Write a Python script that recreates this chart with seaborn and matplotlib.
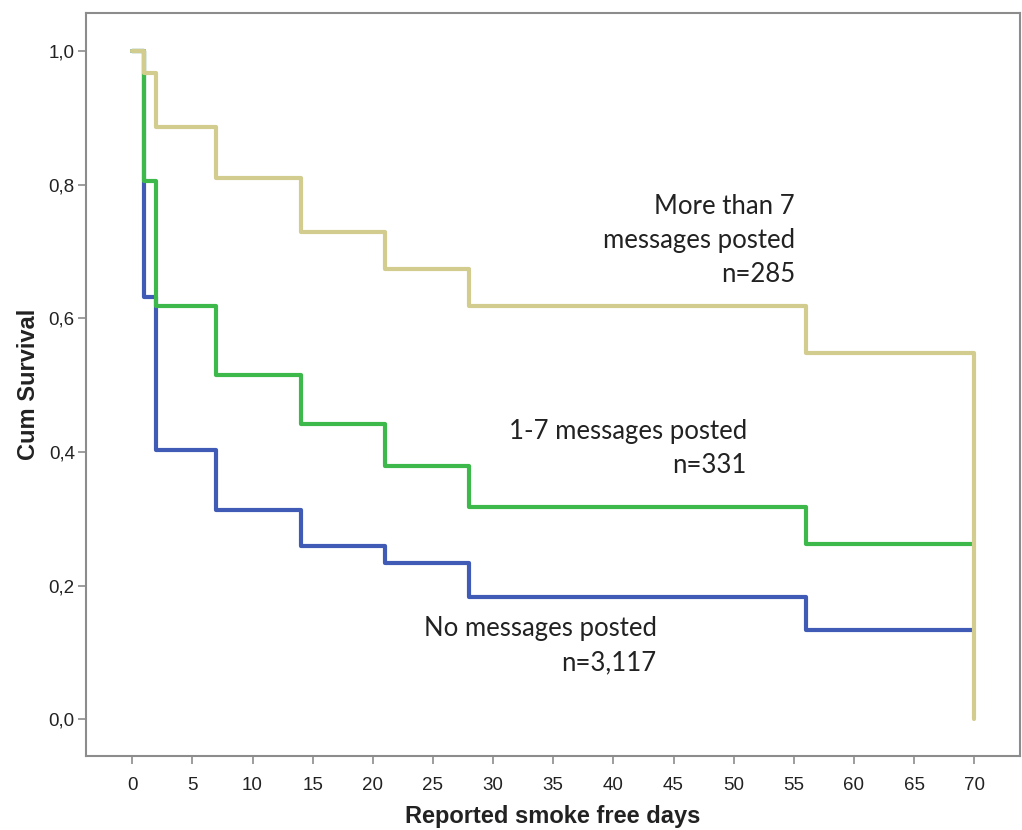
"""
Kaplan-Meier 曲线：按发帖数量分组的戒烟天数累计生存率
"""
import pandas as pd
import numpy as np
import matplotlib
matplotlib.use('Agg')
import matplotlib.pyplot as plt
import seaborn as sns
from matplotlib.ticker import FuncFormatter

# ==================== 数据 ====================
days = [0, 1, 2, 7, 14, 21, 28, 56, 70]
surv_none = [1.0, 0.632, 0.403, 0.313, 0.260, 0.234, 0.183, 0.133, 0.133]
surv_1_7 = [1.0, 0.805, 0.618, 0.516, 0.442, 0.379, 0.318, 0.262, 0.262]
surv_gt7 = [1.0, 0.967, 0.886, 0.810, 0.729, 0.674, 0.618, 0.548, 0.0]

groups = ['No messages posted', '1-7 messages posted', 'More than 7 messages posted']
group_n = ['n=3,117', 'n=331', 'n=285']
colors = ['#3f5bb5', '#3db84a', '#d2cc8e']

df = pd.concat([
    pd.DataFrame({'days': days, 'surv': s, 'group': g})
    for s, g in zip([surv_none, surv_1_7, surv_gt7], groups)
], ignore_index=True)

# ==================== 绘图 ====================
sns.set_style('white')
narrow = ['Liberation Sans Narrow', 'Liberation Sans', 'DejaVu Sans']

fig = plt.figure(figsize=(10.22, 8.3), dpi=100)
ax = fig.add_axes([0.0841, 0.0892, 0.9139, 0.8950])

sns.lineplot(data=df, x='days', y='surv', hue='group', hue_order=groups,
             palette=colors, estimator=None, drawstyle='steps-post',
             linewidth=3, legend=False, ax=ax)

ax.set_xlim(-3.85, 73.8)
ax.set_ylim(-0.055, 1.057)
ax.set_xticks(range(0, 71, 5))
ax.set_yticks(np.arange(0, 1.01, 0.2))
ax.yaxis.set_major_formatter(FuncFormatter(lambda v, p: f'{v:.1f}'.replace('.', ',')))

for sp in ax.spines.values():
    sp.set_visible(True)
    sp.set_color('#8c8c8c')
    sp.set_linewidth(1.5)
ax.tick_params(axis='both', direction='out', length=6, width=1.2, color='#8c8c8c',
               labelsize=13.5, labelcolor='#222222', bottom=True, left=True)
ax.tick_params(axis='x', pad=9)
ax.tick_params(axis='y', pad=2)
for lab in ax.get_xticklabels() + ax.get_yticklabels():
    lab.set_family(narrow)

ax.set_xlabel('Reported smoke free days', fontsize=17, fontweight='bold',
              family=narrow, color='#222222', labelpad=8)
ax.set_ylabel('Cum Survival', fontsize=17, fontweight='bold',
              family=narrow, color='#222222', labelpad=6)

# 曲线标注
note_font = ['Lato', 'Open Sans', 'DejaVu Sans']
note_kw = dict(ha='right', va='center', multialignment='right', fontsize=18.5,
               family=note_font, color='#222222', linespacing=1.45)
ax.text(55.1, 0.716, 'More than 7\nmessages posted\n' + group_n[2], **note_kw)
ax.text(51.1, 0.405, '1-7 messages posted\n' + group_n[1], **note_kw)
ax.text(43.6, 0.110, 'No messages posted\n' + group_n[0], **note_kw)

fig.savefig('out.png', dpi=100)
plt.close(fig)
